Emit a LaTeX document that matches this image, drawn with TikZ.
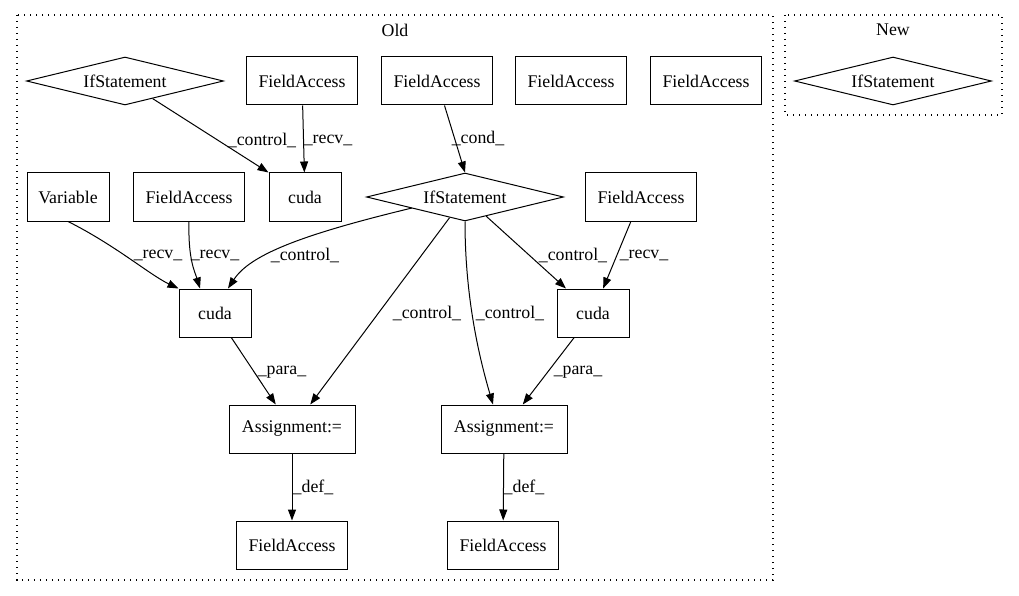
\documentclass[tikz,border=0pt]{standalone}
\usepackage{fontspec}
\setmainfont{Liberation Serif}
\usetikzlibrary{arrows.meta,shapes.geometric}

\def\fsize{\fontsize{17.8}{20}\selectfont}

\begin{document}
\begin{tikzpicture}[x=1pt, y=-1pt, line width=1pt,
    every node/.style={font=\fsize, inner sep=0pt},
    box/.style={draw, rectangle, minimum height=48pt},
    cond/.style={draw, diamond, aspect=4, minimum width=197pt, minimum height=48pt},
    edge/.style={-{Triangle[length=11pt,width=8pt]}},
    lbl/.style={anchor=center},
    cluster/.style={draw, dash pattern=on 1.3pt off 4.7pt, line width=1.1pt}]
      \useasboundingbox (0,0) rectangle (1019,596);
      \draw[cluster] (17,15) rectangle (773,580);
      \draw[cluster] (785,15) rectangle (1002,115);
      \node[lbl] (old) at (395,30) {Old};
      \node[lbl] (new) at (893,30) {New};
      \node[cond] (ifA) at (125,81) {IfStatement};
      \node[box, minimum width=111pt] (faA) at (302,81) {FieldAccess};
      \node[box, minimum width=111pt] (faB) at (437,81) {FieldAccess};
      \node[box, minimum width=111pt] (faC) at (571,81) {FieldAccess};
      \node[box, minimum width=111pt] (faD) at (706,81) {FieldAccess};
      \node[cond] (ifNew) at (893,81) {IfStatement};
      \node[box, minimum width=82pt] (var) at (68,197) {Variable};
      \node[box, minimum width=111pt] (faE) at (189,197) {FieldAccess};
      \node[box, minimum width=72pt] (cudaT) at (305,197) {cuda};
      \node[cond] (ifB) at (465,197) {IfStatement};
      \node[box, minimum width=111pt] (faF) at (641,197) {FieldAccess};
      \node[box, minimum width=72pt] (cudaL) at (215,313) {cuda};
      \node[box, minimum width=72pt] (cudaR) at (593,313) {cuda};
      \node[box, minimum width=126pt] (asgL) at (292,429) {Assignment:=};
      \node[box, minimum width=126pt] (asgR) at (504,429) {Assignment:=};
      \node[box, minimum width=111pt] (faL) at (292,545) {FieldAccess};
      \node[box, minimum width=111pt] (faR) at (503,545) {FieldAccess};
      \draw[edge] (ifA) -- (cudaT.north west);
      \draw[edge] (faA) -- (cudaT);
      \draw[edge] (faB) -- (ifB.north);
      \draw[edge] (var.south) .. controls (115,245) and (150,275) .. (cudaL.north west);
      \draw[edge] (faE.south) .. controls (188,260) and (195,272) .. ([xshift=-15pt]cudaL.north);
      \draw[edge] (ifB.west) ++(46,11) .. controls (300,235) and (250,255) .. ([xshift=13pt]cudaL.north);
      \draw[edge] (ifB) -- (asgL);
      \draw[edge] (ifB.south) .. controls (465,300) and (480,360) .. ([xshift=-11pt]asgR.north);
      \draw[edge] (ifB) -- (cudaR);
      \draw[edge] (faF) -- (cudaR);
      \draw[edge] (cudaL) -- (asgL);
      \draw[edge] (cudaR) -- (asgR);
      \draw[edge] (asgL) -- (faL);
      \draw[edge] (asgR) -- (faR);
      \node[lbl] (l1) at (262,140) {\_control\_};
      \node[lbl] (l2) at (328,140) {\_recv\_};
      \node[lbl] (l3) at (478,138) {\_cond\_};
      \node[lbl] (l4) at (158,255) {\_recv\_};
      \node[lbl] (l5) at (215,255) {\_recv\_};
      \node[lbl] (l6) at (305,255) {\_control\_};
      \node[lbl] (l7) at (427,313) {\_control\_};
      \node[lbl] (l8) at (510,313) {\_control\_};
      \node[lbl] (l9) at (573,255) {\_control\_};
      \node[lbl] (l10) at (644,255) {\_recv\_};
      \node[lbl] (l11) at (282,372) {\_para\_};
      \node[lbl] (l12) at (578,372) {\_para\_};
      \node[lbl] (l13) at (313,487) {\_def\_};
      \node[lbl] (l14) at (524,487) {\_def\_};
    \end{tikzpicture}
\end{document}
